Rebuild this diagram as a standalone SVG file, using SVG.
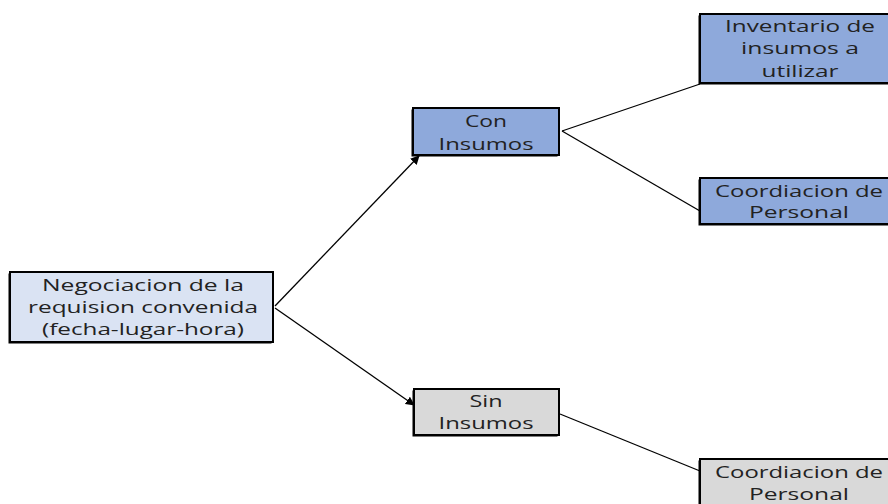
<svg xmlns="http://www.w3.org/2000/svg" width="888" height="504" viewBox="0 0 888 504">
<defs>
<marker id="ah" viewBox="0 0 10 10" refX="9" refY="5" markerWidth="9" markerHeight="9" markerUnits="userSpaceOnUse" orient="auto">
<path d="M0,0 L10,5 L0,10 z" fill="#000"/>
</marker>
<style>
.sh{fill:#000}
.bx{stroke:#000;stroke-width:2}
.blue{fill:#8EA9DB}
.light{fill:#DAE3F3}
.gray{fill:#D9D9D9}
text{font-family:"Open Sans","DejaVu Sans",sans-serif;font-size:16px;fill:#222;text-anchor:middle}
.cn{stroke:#000;stroke-width:1.3;fill:none}
</style>
</defs>
<rect width="888" height="504" fill="#fff"/>
<g id="connectors">
<line class="cn" x1="275" y1="306" x2="419" y2="156" marker-end="url(#ah)"/>
<line class="cn" x1="275" y1="308" x2="414" y2="405" marker-end="url(#ah)"/>
<line class="cn" x1="562" y1="131" x2="700" y2="84"/>
<line class="cn" x1="562" y1="131" x2="700" y2="211"/>
<line class="cn" x1="560" y1="414" x2="700" y2="471"/>
</g>
<g id="root">
<rect class="sh" x="8.5" y="273.5" width="263" height="70"/>
<rect class="bx light" x="10" y="272" width="263" height="70"/>
<text x="143" y="291" textLength="202" lengthAdjust="spacingAndGlyphs">Negociacion de la</text>
<text x="143" y="313" textLength="230" lengthAdjust="spacingAndGlyphs">requision convenida</text>
<text x="143" y="335" textLength="202" lengthAdjust="spacingAndGlyphs">(fecha-lugar-hora)</text>
</g>
<g id="con">
<rect class="sh" x="411.5" y="109.5" width="146" height="47"/>
<rect class="bx blue" x="413" y="108" width="146" height="47"/>
<text x="486" y="127" textLength="42" lengthAdjust="spacingAndGlyphs">Con</text>
<text x="486" y="150" textLength="95" lengthAdjust="spacingAndGlyphs">Insumos</text>
</g>
<g id="sin">
<rect class="sh" x="412.5" y="390.5" width="145" height="46"/>
<rect class="bx gray" x="414" y="389" width="145" height="46"/>
<text x="486" y="407" textLength="33" lengthAdjust="spacingAndGlyphs">Sin</text>
<text x="486" y="429" textLength="95" lengthAdjust="spacingAndGlyphs">Insumos</text>
</g>
<g id="inventario">
<rect class="sh" x="698.5" y="15.5" width="200" height="69"/>
<rect class="bx blue" x="700" y="14" width="200" height="69"/>
<text x="800" y="32" textLength="150" lengthAdjust="spacingAndGlyphs">Inventario de</text>
<text x="800" y="54" textLength="118" lengthAdjust="spacingAndGlyphs">insumos a</text>
<text x="800" y="77" textLength="77" lengthAdjust="spacingAndGlyphs">utilizar</text>
</g>
<g id="coord1">
<rect class="sh" x="698.5" y="179.5" width="200" height="46"/>
<rect class="bx blue" x="700" y="178" width="200" height="46"/>
<text x="799" y="197" textLength="168" lengthAdjust="spacingAndGlyphs">Coordiacion de</text>
<text x="799" y="218" textLength="100" lengthAdjust="spacingAndGlyphs">Personal</text>
</g>
<g id="coord2">
<rect class="sh" x="698.5" y="460.5" width="200" height="50"/>
<rect class="bx gray" x="700" y="459" width="200" height="50"/>
<text x="799" y="478" textLength="168" lengthAdjust="spacingAndGlyphs">Coordiacion de</text>
<text x="799" y="500" textLength="100" lengthAdjust="spacingAndGlyphs">Personal</text>
</g>
</svg>
